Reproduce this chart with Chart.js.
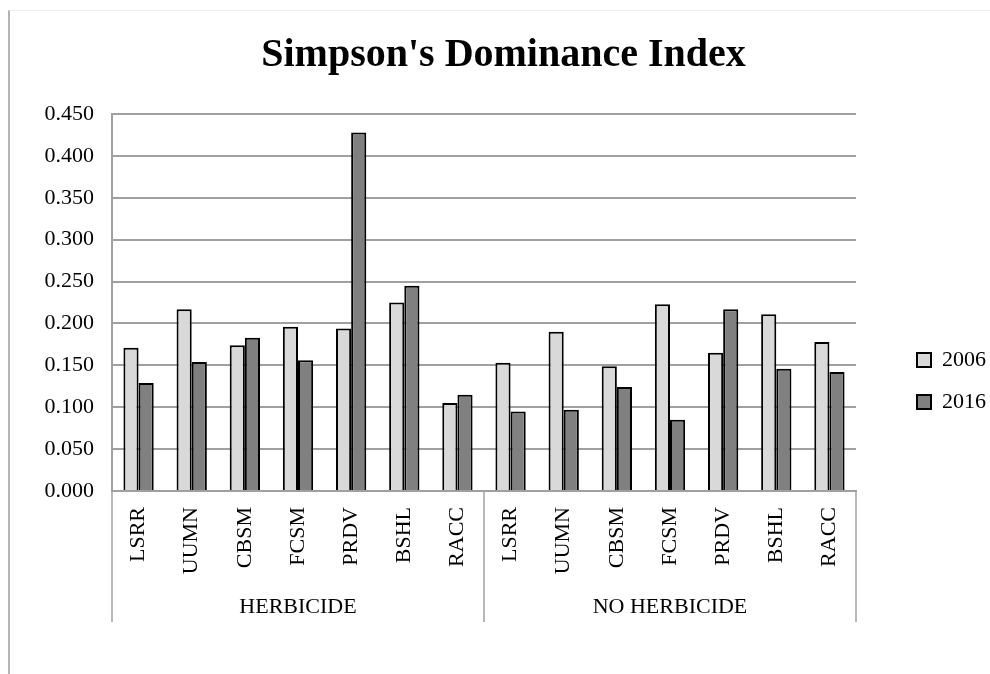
<!DOCTYPE html>
<html>
<head>
<meta charset="utf-8">
<script src="https://cdn.jsdelivr.net/npm/chart.js@4.4.1/dist/chart.umd.min.js"></script>
<style>
  html, body { margin: 0; padding: 0; background: #fff; }
  #wrap { position: relative; width: 990px; height: 674px; }
  #frame { position: absolute; left: 8px; top: 10px; right: 0; bottom: 0;
           border-left: 2px solid #b4b4b4; border-top: 1px solid #eeeeee; }
  #chart { position: absolute; left: 0; top: 0; }
</style>
</head>
<body>
<div id="wrap">
  <div id="frame"></div>
  <canvas id="chart" width="990" height="674"></canvas>
</div>
<script>
// --- DATA ---
const sites = ['LSRR', 'UUMN', 'CBSM', 'FCSM', 'PRDV', 'BSHL', 'RACC'];
const groups = ['HERBICIDE', 'NO HERBICIDE'];
const years = ['2006', '2016'];
const values2006 = [0.171, 0.217, 0.174, 0.196, 0.194, 0.225, 0.105, 0.153, 0.190, 0.149, 0.223, 0.165, 0.211, 0.178];
const values2016 = [0.129, 0.154, 0.183, 0.156, 0.428, 0.245, 0.115, 0.095, 0.097, 0.124, 0.085, 0.217, 0.146, 0.142];

const labels = groups.flatMap(() => sites);
const FONT = "'Liberation Serif', 'DejaVu Serif', serif";
const axisColor = '#a0a0a0';

// group labels + separators under the category axis
const groupAxis = {
  id: 'groupAxis',
  afterLayout(chart) {
    // legend sits further right and lower than the default spot,
    // title is centred on the whole page rather than left of the legend
    const lg = chart.legend;
    lg.left += 41; lg.right += 41;
    lg.top += 70; lg.bottom += 70;
    const tb = chart.titleBlock;
    tb.left += 26; tb.right += 26;
  },
  afterDraw(chart) {
    const { ctx, chartArea, scales: { x } } = chart;
    const per = sites.length;
    const edges = [chartArea.left];
    for (let g = 1; g < groups.length; g++) {
      edges.push((x.getPixelForValue(g * per - 1) + x.getPixelForValue(g * per)) / 2);
    }
    edges.push(chartArea.right);

    ctx.save();
    ctx.strokeStyle = axisColor;
    ctx.lineWidth = 1.5;
    edges.forEach((px) => {
      ctx.beginPath();
      ctx.moveTo(px, chartArea.bottom);
      ctx.lineTo(px, x.bottom);
      ctx.stroke();
    });
    ctx.fillStyle = '#000';
    ctx.font = '22px ' + FONT;
    ctx.textAlign = 'center';
    ctx.textBaseline = 'middle';
    groups.forEach((g, i) => {
      ctx.fillText(g, (edges[i] + edges[i + 1]) / 2, x.bottom - 15);
    });
    ctx.restore();
  }
};

new Chart(document.getElementById('chart'), {
  type: 'bar',
  data: {
    labels: labels,
    datasets: [
      { label: years[0], data: values2006, backgroundColor: '#d9d9d9', borderColor: '#000', borderWidth: 2 },
      { label: years[1], data: values2016, backgroundColor: '#808080', borderColor: '#000', borderWidth: 2 },
    ],
  },
  options: {
    responsive: false,
    animation: false,
    layout: { padding: { left: 0, right: 35, top: 0, bottom: 52 } },
    datasets: { bar: { categoryPercentage: 0.57, barPercentage: 1 } },
    plugins: {
      title: {
        display: true,
        text: "Simpson's Dominance Index",
        color: '#000',
        font: { family: FONT, size: 40, weight: 'bold' },
        padding: { top: 32, bottom: 34 },
      },
      legend: {
        position: 'right',
        labels: {
          color: '#000',
          font: { family: FONT, size: 22 },
          boxWidth: 14,
          boxHeight: 14,
          padding: 20,
        },
      },
      tooltip: { enabled: false },
    },
    scales: {
      x: {
        grid: { display: false, drawTicks: false },
        border: { display: true, color: axisColor, width: 2 },
        ticks: {
          color: '#000',
          font: { family: FONT, size: 22 },
          minRotation: 90,
          maxRotation: 90,
          padding: 16,
          autoSkip: false,
        },
        afterFit: (scale) => { scale.height = 131; },
      },
      y: {
        min: 0,
        max: 0.45,
        grid: { color: axisColor, lineWidth: 2, drawTicks: false },
        border: { display: true, color: axisColor, width: 2 },
        ticks: {
          stepSize: 0.05,
          color: '#000',
          font: { family: FONT, size: 22 },
          padding: 18,
          callback: (v) => v.toFixed(3),
        },
        afterFit: (scale) => { scale.width = 112; },
      },
    },
  },
  plugins: [groupAxis],
});
</script>
</body>
</html>
